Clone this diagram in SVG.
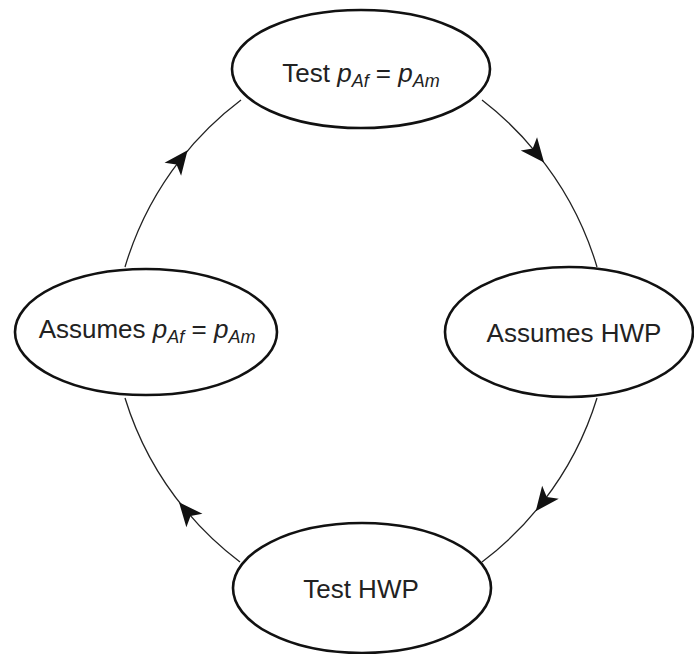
<svg xmlns="http://www.w3.org/2000/svg" width="694" height="654" viewBox="0 0 694 654">
  <style>
    .conn { fill: none; stroke: #222; stroke-width: 1.3; marker-mid: url(#arr); }
    .node ellipse { fill: #fff; stroke: #111; stroke-width: 2.6; }
    .node text { font-family: "Liberation Sans", Arial, sans-serif; font-size: 26px; fill: #222; text-anchor: middle; }
    .it { font-style: italic; }
    .sub { font-style: italic; font-size: 18px; }
  </style>
  <defs>
    <marker id="arr" markerUnits="userSpaceOnUse" orient="auto" refX="0" refY="0" markerWidth="30" markerHeight="30" viewBox="-10 -10 20 20" overflow="visible">
      <path d="M8,0 L-8,-7 L-4,0 L-8,7 Z" fill="#111"/>
    </marker>
  </defs>
  <rect width="694" height="654" fill="#fff"/>
  <g id="connectors">
    <path class="conn" d="M482,100 A325,325 0 0 1 536.5,153.1 A325,325 0 0 1 597,267"/>
    <path class="conn" d="M597,398 A325,325 0 0 1 543.1,501.7 A325,325 0 0 1 482,562"/>
    <path class="conn" d="M240,562 A325,325 0 0 1 186.7,511.4 A325,325 0 0 1 125,398"/>
    <path class="conn" d="M125,267 A325,325 0 0 1 180.2,159.8 A325,325 0 0 1 241,100"/>
  </g>
  <g id="test-p" class="node">
    <ellipse cx="361" cy="69" rx="129" ry="59"/>
    <text x="361" y="82">Test <tspan class="it">p</tspan><tspan class="sub" dy="5">Af</tspan><tspan dy="-5"> = </tspan><tspan class="it">p</tspan><tspan class="sub" dy="5">Am</tspan></text>
  </g>
  <g id="assumes-hwp" class="node">
    <ellipse cx="569" cy="332" rx="124" ry="65"/>
    <text x="574" y="342">Assumes HWP</text>
  </g>
  <g id="test-hwp" class="node">
    <ellipse cx="362" cy="588" rx="129" ry="65"/>
    <text x="361" y="598">Test HWP</text>
  </g>
  <g id="assumes-p" class="node">
    <ellipse cx="146" cy="332" rx="131" ry="63"/>
    <text x="147" y="338">Assumes <tspan class="it">p</tspan><tspan class="sub" dy="5">Af</tspan><tspan dy="-5"> = </tspan><tspan class="it">p</tspan><tspan class="sub" dy="5">Am</tspan></text>
  </g>
</svg>
